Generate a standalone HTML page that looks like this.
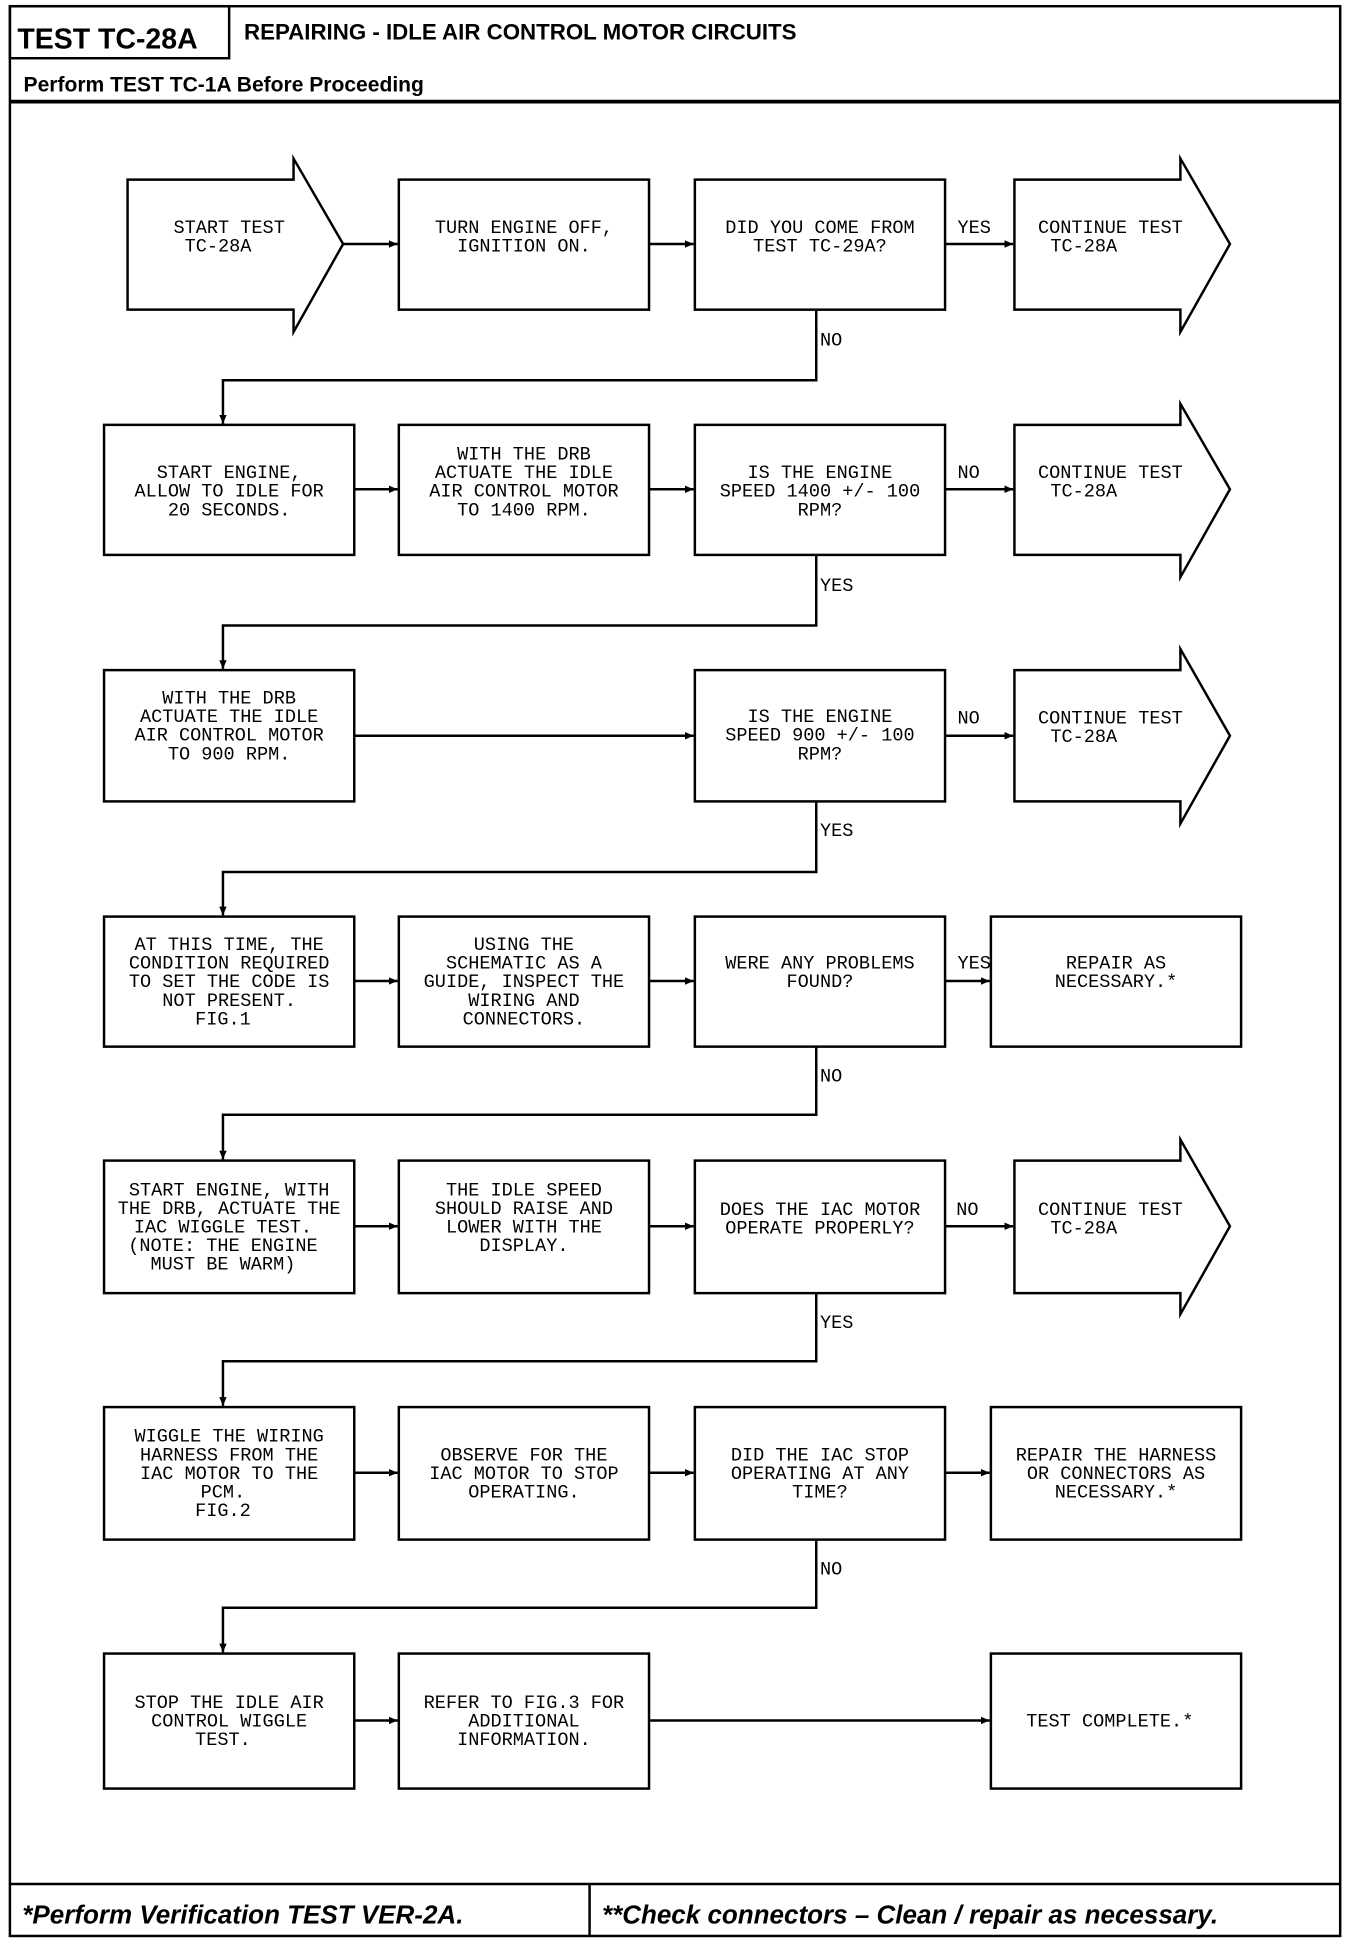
<!DOCTYPE html>
<html><head><meta charset="utf-8"><style>
html,body{margin:0;padding:0;background:#fff;}
svg{display:block;}
.t{font-family:"Liberation Mono",monospace;font-size:15px;fill:#000;}
.h{font-family:"Liberation Sans",sans-serif;font-weight:bold;fill:#000;}
</style></head><body>
<svg width="1360" height="1948" viewBox="0 0 1098 1572.7" xmlns="http://www.w3.org/2000/svg">
<defs><marker id="a" markerWidth="8" markerHeight="8" refX="7" refY="4" orient="auto" markerUnits="userSpaceOnUse"><path d="M0,1 L7,4 L0,7 Z" fill="#000"/></marker></defs>
<g fill="none" stroke="#000">
<rect x="8" y="5" width="1074" height="1558" stroke-width="2"/>
<rect x="8" y="5" width="177" height="42" stroke-width="2"/>
<line x1="8" y1="82" x2="1082" y2="82" stroke-width="3"/>
<line x1="8" y1="1521" x2="1082" y2="1521" stroke-width="2"/>
<line x1="476" y1="1521" x2="476" y2="1563" stroke-width="2"/>
</g>
<text class="h" x="14" y="39" font-size="23">TEST TC-28A</text>
<text class="h" x="197" y="32" font-size="18">REPAIRING - IDLE AIR CONTROL MOTOR CIRCUITS</text>
<text class="h" x="19" y="74" font-size="17">Perform TEST TC-1A Before Proceeding</text>
<text class="h" x="18" y="1553" font-size="21" font-style="italic">*Perform Verification TEST VER-2A.</text>
<text class="h" x="486" y="1553" font-size="21" font-style="italic">**Check connectors – Clean / repair as necessary.</text>

<g fill="none" stroke="#000" stroke-width="2">
<!-- row1 -->
<polygon points="103,145 237,145 237,128 277,197 237,268 237,250 103,250"/>
<rect x="322" y="145" width="202" height="105"/>
<rect x="561" y="145" width="202" height="105"/>
<polygon points="819,145 953,145 953,128 993,197 953,268 953,250 819,250"/>
<!-- row2 -->
<rect x="84" y="343" width="202" height="105"/>
<rect x="322" y="343" width="202" height="105"/>
<rect x="561" y="343" width="202" height="105"/>
<polygon points="819,343 953,343 953,326 993,395 953,466 953,448 819,448"/>
<!-- row3 -->
<rect x="84" y="541" width="202" height="106"/>
<rect x="561" y="541" width="202" height="106"/>
<polygon points="819,541 953,541 953,524 993,594 953,665 953,647 819,647"/>
<!-- row4 -->
<rect x="84" y="740" width="202" height="105"/>
<rect x="322" y="740" width="202" height="105"/>
<rect x="561" y="740" width="202" height="105"/>
<rect x="800" y="740" width="202" height="105"/>
<!-- row5 -->
<rect x="84" y="937" width="202" height="107"/>
<rect x="322" y="937" width="202" height="107"/>
<rect x="561" y="937" width="202" height="107"/>
<polygon points="819,937 953,937 953,920 993,990 953,1061 953,1044 819,1044"/>
<!-- row6 -->
<rect x="84" y="1136" width="202" height="107"/>
<rect x="322" y="1136" width="202" height="107"/>
<rect x="561" y="1136" width="202" height="107"/>
<rect x="800" y="1136" width="202" height="107"/>
<!-- row7 -->
<rect x="84" y="1335" width="202" height="109"/>
<rect x="322" y="1335" width="202" height="109"/>
<rect x="800" y="1335" width="202" height="109"/>
</g>

<g fill="none" stroke="#000" stroke-width="2" marker-end="url(#a)">
<line x1="277" y1="197" x2="321" y2="197"/>
<line x1="524" y1="197" x2="560" y2="197"/>
<line x1="763" y1="197" x2="818" y2="197"/>
<polyline points="659,250 659,307 180,307 180,342"/>
<line x1="286" y1="395" x2="321" y2="395"/>
<line x1="524" y1="395" x2="560" y2="395"/>
<line x1="763" y1="395" x2="818" y2="395"/>
<polyline points="659,448 659,505 180,505 180,540"/>
<line x1="286" y1="594" x2="560" y2="594"/>
<line x1="763" y1="594" x2="818" y2="594"/>
<polyline points="659,647 659,704 180,704 180,739"/>
<line x1="286" y1="792" x2="321" y2="792"/>
<line x1="524" y1="792" x2="560" y2="792"/>
<line x1="763" y1="792" x2="799" y2="792"/>
<polyline points="659,845 659,900 180,900 180,936"/>
<line x1="286" y1="990" x2="321" y2="990"/>
<line x1="524" y1="990" x2="560" y2="990"/>
<line x1="763" y1="990" x2="818" y2="990"/>
<polyline points="659,1044 659,1099 180,1099 180,1135"/>
<line x1="286" y1="1189" x2="321" y2="1189"/>
<line x1="524" y1="1189" x2="560" y2="1189"/>
<line x1="763" y1="1189" x2="799" y2="1189"/>
<polyline points="659,1243 659,1298 180,1298 180,1334"/>
<line x1="286" y1="1389" x2="321" y2="1389"/>
<line x1="524" y1="1389" x2="799" y2="1389"/>
</g>

<g class="t">
<text x="773" y="188">YES</text>
<text x="662" y="279">NO</text>
<text x="773" y="386">NO</text>
<text x="662" y="477">YES</text>
<text x="773" y="584">NO</text>
<text x="662" y="675">YES</text>
<text x="773" y="782">YES</text>
<text x="662" y="873">NO</text>
<text x="772" y="981">NO</text>
<text x="662" y="1072">YES</text>
<text x="662" y="1271">NO</text>
</g>

<g class="t" text-anchor="middle">
<text x="185" y="188">START TEST</text><text x="176" y="203">TC-28A</text>
<text x="423" y="188">TURN ENGINE OFF,</text><text x="423" y="203">IGNITION ON.</text>
<text x="662" y="188">DID YOU COME FROM</text><text x="662" y="203">TEST TC-29A?</text>

<text x="185" y="386">START ENGINE,</text><text x="185" y="401">ALLOW TO IDLE FOR</text><text x="185" y="416">20 SECONDS.</text>
<text x="423" y="371">WITH THE DRB</text><text x="423" y="386">ACTUATE THE IDLE</text><text x="423" y="401">AIR CONTROL MOTOR</text><text x="423" y="416">TO 1400 RPM.</text>
<text x="662" y="386">IS THE ENGINE</text><text x="662" y="401">SPEED 1400 +/- 100</text><text x="662" y="416">RPM?</text>

<text x="185" y="568">WITH THE DRB</text><text x="185" y="583">ACTUATE THE IDLE</text><text x="185" y="598">AIR CONTROL MOTOR</text><text x="185" y="613">TO 900 RPM.</text>
<text x="662" y="583">IS THE ENGINE</text><text x="662" y="598">SPEED 900 +/- 100</text><text x="662" y="613">RPM?</text>

<text x="185" y="767">AT THIS TIME, THE</text><text x="185" y="782">CONDITION REQUIRED</text><text x="185" y="797">TO SET THE CODE IS</text><text x="185" y="812">NOT PRESENT.</text><text x="180" y="827">FIG.1</text>
<text x="423" y="767">USING THE</text><text x="423" y="782">SCHEMATIC AS A</text><text x="423" y="797">GUIDE, INSPECT THE</text><text x="423" y="812">WIRING AND</text><text x="423" y="827">CONNECTORS.</text>
<text x="662" y="782">WERE ANY PROBLEMS</text><text x="662" y="797">FOUND?</text>
<text x="901" y="782">REPAIR AS</text><text x="901" y="797">NECESSARY.*</text>

<text x="185" y="965">START ENGINE, WITH</text><text x="185" y="980">THE DRB, ACTUATE THE</text><text x="180" y="995">IAC WIGGLE TEST.</text><text x="180" y="1010">(NOTE: THE ENGINE</text><text x="180" y="1025">MUST BE WARM)</text>
<text x="423" y="965">THE IDLE SPEED</text><text x="423" y="980">SHOULD RAISE AND</text><text x="423" y="995">LOWER WITH THE</text><text x="423" y="1010">DISPLAY.</text>
<text x="662" y="981">DOES THE IAC MOTOR</text><text x="662" y="996">OPERATE PROPERLY?</text>

<text x="185" y="1164">WIGGLE THE WIRING</text><text x="185" y="1179">HARNESS FROM THE</text><text x="185" y="1194">IAC MOTOR TO THE</text><text x="180" y="1209">PCM.</text><text x="180" y="1224">FIG.2</text>
<text x="423" y="1179">OBSERVE FOR THE</text><text x="423" y="1194">IAC MOTOR TO STOP</text><text x="423" y="1209">OPERATING.</text>
<text x="662" y="1179">DID THE IAC STOP</text><text x="662" y="1194">OPERATING AT ANY</text><text x="662" y="1209">TIME?</text>
<text x="901" y="1179">REPAIR THE HARNESS</text><text x="901" y="1194">OR CONNECTORS AS</text><text x="901" y="1209">NECESSARY.*</text>

<text x="185" y="1379">STOP THE IDLE AIR</text><text x="185" y="1394">CONTROL WIGGLE</text><text x="180" y="1409">TEST.</text>
<text x="423" y="1379">REFER TO FIG.3 FOR</text><text x="423" y="1394">ADDITIONAL</text><text x="423" y="1409">INFORMATION.</text>
<text x="896" y="1394">TEST COMPLETE.*</text>
</g>

<g class="t">
<text x="838" y="188">CONTINUE TEST</text><text x="848" y="203">TC-28A</text>
<text x="838" y="386">CONTINUE TEST</text><text x="848" y="401">TC-28A</text>
<text x="838" y="584">CONTINUE TEST</text><text x="848" y="599">TC-28A</text>
<text x="838" y="981">CONTINUE TEST</text><text x="848" y="996">TC-28A</text>
</g>
</svg>
</body></html>
